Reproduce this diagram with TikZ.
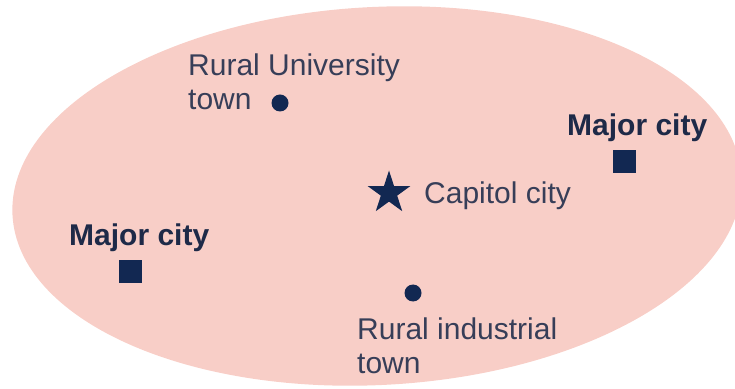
\documentclass[tikz,border=0pt]{standalone}
\usepackage{fontspec}
\setmainfont{Liberation Sans}
\usetikzlibrary{shapes.geometric}
\definecolor{region}{RGB}{248,206,199}
\definecolor{navy}{RGB}{18,40,82}
\definecolor{labeltext}{RGB}{55,62,88}
\definecolor{boldtext}{RGB}{30,42,72}

\begin{document}
\begin{tikzpicture}[x=1pt, y=1pt,
  town/.style={circle, fill=navy, inner sep=0pt, minimum size=17pt},
  city/.style={rectangle, fill=navy, inner sep=0pt, minimum size=23pt},
  lbl/.style={inner sep=0pt, text=labeltext, font=\fontsize{30}{34}\selectfont},
  bigname/.style={inner sep=0pt, text=boldtext, font=\fontsize{30}{34}\selectfont\bfseries}]
  \useasboundingbox (0, 0) rectangle (735, 388);
  \clip (0, 0) rectangle (735, 388);
  \fill[region, rotate around={3:(377, 192)}] (377, 192) ellipse [x radius=365, y radius=189];
  % towns and cities
  \node[town] (univ) at (280, 285) {};
  \node[lbl, anchor=north west, align=left] (univlabel) at (188, 334) {Rural University\\town};
  \node[town] (ind) at (413, 95) {};
  \node[lbl, anchor=north west, align=left] (indlabel) at (357, 70) {Rural industrial\\town};
  \node[star, star points=5, star point ratio=2.618, fill=navy, inner sep=0pt, minimum size=45pt] (capitol) at (389, 195) {};
  \node[lbl, anchor=base west] (capitollabel) at (424, 184) {Capitol city};
  \node[city] (east) at (624, 226) {};
  \node[bigname, anchor=base west] (eastlabel) at (567, 252) {Major city};
  \node[city] (west) at (130, 116) {};
  \node[bigname, anchor=base west] (westlabel) at (69, 142) {Major city};
\end{tikzpicture}
\end{document}
